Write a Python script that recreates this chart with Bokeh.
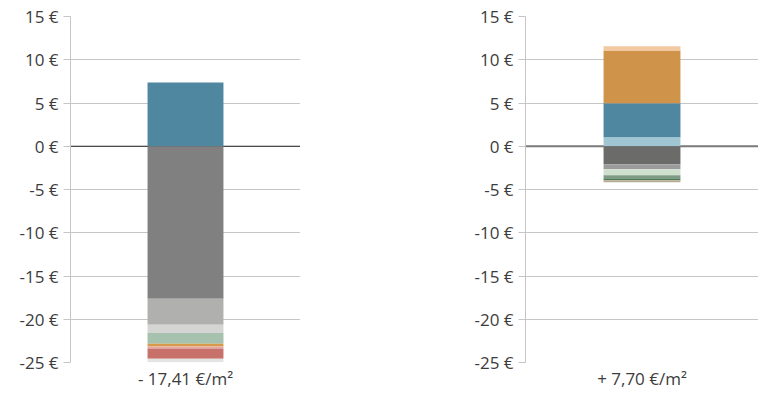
import numpy as np
from bokeh.plotting import figure
from bokeh.layouts import row
from bokeh.models import (ColumnDataSource, Range1d, FixedTicker, PrintfTickFormatter,
                          Span, Spacer)
from bokeh.embed import file_html
from bokeh.resources import INLINE

# ---- data ----
left_label = "- 17,41 €/m²"
left_pos = [7.38]
left_pos_colors = ["#4f86a0"]
left_neg = [17.64, 3.0, 0.96, 1.23, 0.31, 0.23, 1.19, 0.42]
left_neg_colors = ["#7f807f", "#b0b0ae", "#d5d5d3", "#a6c2ae", "#d69a4a", "#e6aaa2", "#c8706a", "#e3e5e3"]

right_label = "+ 7,70 €/m²"
right_pos = [1.04, 3.92, 6.10, 0.50]
right_pos_colors = ["#a0c6d4", "#4f86a0", "#cf934a", "#f2c9a0"]
right_neg = [2.07, 0.58, 0.69, 0.46, 0.12, 0.23]
right_neg_colors = ["#6b6b6a", "#9b9b9b", "#cfe0cf", "#7f9b85", "#4e7a55", "#b8ab93"]

y_ticks = [-25, -20, -15, -10, -5, 0, 5, 10, 15]

FONT = "Open Sans"
TXT = "#3c3c3c"
GRID = "#c6c6c6"
FS = "17px"


def make_fig(label, pos, pos_colors, neg, neg_colors, width, border_left,
             zero_color, zero_width):
    p = figure(x_range=[label], y_range=Range1d(-25, 15), width=width, height=392,
               output_backend="svg", toolbar_location=None,
               min_border_left=border_left, min_border_right=0,
               min_border_top=16, min_border_bottom=20)
    p.outline_line_color = None
    p.background_fill_color = "white"

    ptop = np.cumsum(pos)
    pbot = ptop - np.array(pos)
    ntop = -np.cumsum(neg) + np.array(neg)
    nbot = -np.cumsum(neg)
    src = ColumnDataSource(dict(
        x=[label] * (len(pos) + len(neg)),
        top=list(ptop) + list(ntop),
        bottom=list(pbot) + list(nbot),
        color=list(pos_colors) + list(neg_colors),
    ))
    p.vbar(x="x", top="top", bottom="bottom", width=0.33, color="color",
           line_color=None, source=src)

    p.add_layout(Span(location=0, dimension="width", line_color=zero_color,
                      line_width=zero_width, level="underlay"))

    p.yaxis.ticker = FixedTicker(ticks=y_ticks)
    p.yaxis.formatter = PrintfTickFormatter(format="%d €")
    p.yaxis.axis_line_color = GRID
    p.yaxis.major_tick_line_color = GRID
    p.yaxis.major_tick_out = 7
    p.yaxis.major_tick_in = 0
    p.yaxis.minor_tick_line_color = None
    p.yaxis.major_label_text_font = FONT
    p.yaxis.major_label_text_font_size = FS
    p.yaxis.major_label_text_color = TXT
    p.yaxis.major_label_standoff = 5

    p.ygrid.ticker = FixedTicker(ticks=y_ticks)
    p.ygrid.grid_line_color = GRID
    p.xgrid.grid_line_color = None

    p.xaxis.axis_line_color = None
    p.xaxis.major_tick_line_color = None
    p.xaxis.minor_tick_line_color = None
    p.xaxis.major_tick_out = 0
    p.xaxis.major_tick_in = 0
    p.xaxis.major_label_text_font = FONT
    p.xaxis.major_label_text_font_size = FS
    p.xaxis.major_label_text_color = TXT
    p.xaxis.major_label_standoff = 4
    return p


p1 = make_fig(left_label, left_pos, left_pos_colors, left_neg, left_neg_colors,
              300, 70, "#222222", 1)
p2 = make_fig(right_label, right_pos, right_pos_colors, right_neg, right_neg_colors,
              288, 55, "#7a7a7a", 2)

layout = row(p1, Spacer(width=170, height=10), p2)

open("out.html", "w").write(file_html(layout, INLINE))
